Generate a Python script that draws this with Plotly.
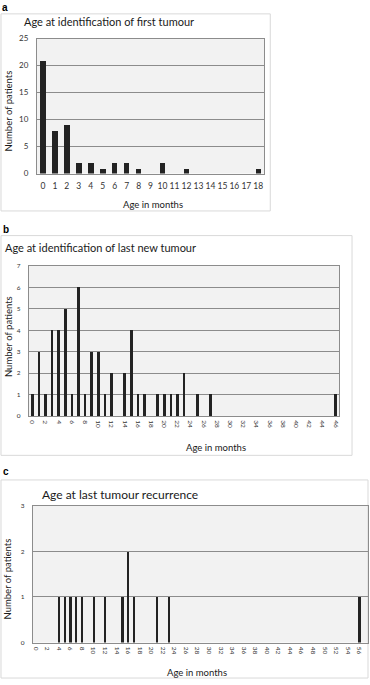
import plotly.graph_objects as go

# ---------------- data ----------------
ages_a = [0, 1, 2, 3, 4, 5, 6, 7, 8, 9, 10, 11, 12, 13, 14, 15, 16, 17, 18]
counts_a = [21, 8, 9, 2, 2, 1, 2, 2, 1, 0, 2, 0, 1, 0, 0, 0, 0, 0, 1]

ages_b = [0, 1, 2, 3, 4, 5, 6, 7, 8, 9, 10, 11, 12, 13, 14, 15, 16, 17, 18, 19,
          20, 21, 22, 23, 24, 25, 26, 27, 28, 29, 30, 31, 32, 33, 34, 35, 36, 37,
          38, 39, 40, 41, 42, 43, 44, 45, 46]
counts_b = [1, 3, 1, 4, 4, 5, 1, 6, 1, 3, 3, 1, 2, 0, 2, 4, 1, 1, 0, 1,
            1, 1, 1, 2, 0, 1, 0, 1, 0, 0, 0, 0, 0, 0, 0, 0, 0, 0,
            0, 0, 0, 0, 0, 0, 0, 0, 1]

ages_c = [0, 1, 2, 3, 4, 5, 6, 7, 8, 9, 10, 11, 12, 13, 14, 15, 16, 17, 18, 19,
          20, 21, 22, 23, 24, 25, 26, 27, 28, 29, 30, 31, 32, 33, 34, 35, 36, 37,
          38, 39, 40, 41, 42, 43, 44, 45, 46, 47, 48, 49, 50, 51, 52, 53, 54, 55,
          56, 57]
counts_c = [0, 0, 0, 0, 1, 1, 1, 1, 1, 0, 1, 0, 1, 0, 0, 1, 2, 1, 0, 0,
            0, 1, 0, 1, 0, 0, 0, 0, 0, 0, 0, 0, 0, 0, 0, 0, 0, 0,
            0, 0, 0, 0, 0, 0, 0, 0, 0, 0, 0, 0, 0, 0, 0, 0, 0, 0,
            1, 0]

ticks_a = [0, 1, 2, 3, 4, 5, 6, 7, 8, 9, 10, 11, 12, 13, 14, 15, 16, 17, 18]
ticks_b = [0, 2, 4, 6, 8, 10, 12, 14, 16, 18, 20, 22, 24, 26, 28, 30, 32, 34,
           36, 38, 40, 42, 44, 46]
ticks_c = [0, 2, 4, 6, 8, 10, 12, 14, 16, 18, 20, 22, 24, 26, 28, 30, 32, 34,
           36, 38, 40, 42, 44, 46, 48, 50, 52, 54, 56]

titles = ["Age at identification of first tumour",
          "Age at identification of last new tumour",
          "Age at last tumour recurrence"]
panel_labels = ["a", "b", "c"]
y_title = "Number of patients"
x_title = "Age in months"

# ---------------- layout helpers ----------------
W, H = 370, 685
FONT = "Lato, Open Sans, sans-serif"
BAR = "#232323"
GRID = "#8c8c8c"


def px(x):
    return x / W


def py(y):
    return 1 - y / H


fig = go.Figure()
fig.add_trace(go.Bar(x=ages_a, y=counts_a, width=0.45, marker_color=BAR,
                     marker_line_width=0, hoverinfo="x+y",
                     xaxis="x", yaxis="y", showlegend=False))
fig.add_trace(go.Bar(x=ages_b, y=counts_b, width=0.42, marker_color=BAR,
                     marker_line_width=0, hoverinfo="x+y",
                     xaxis="x2", yaxis="y2", showlegend=False))
fig.add_trace(go.Bar(x=ages_c, y=counts_c, width=0.38, marker_color=BAR,
                     marker_line_width=0, hoverinfo="x+y",
                     xaxis="x3", yaxis="y3", showlegend=False))


def xax(domain, rng, ticks, size, angle, anchor, standoff):
    return dict(domain=domain, range=rng, tickmode="array", tickvals=ticks,
                ticktext=[str(t) for t in ticks], tickangle=angle,
                tickfont=dict(family=FONT, size=size, color="#333"),
                showgrid=False, zeroline=False, showline=True, mirror=True,
                linecolor=GRID, linewidth=1, ticks="", anchor=anchor,
                ticklabelstandoff=standoff, fixedrange=True)


def yax(domain, rng, dtick, size, anchor, standoff):
    return dict(domain=domain, range=rng, dtick=dtick,
                tickfont=dict(family=FONT, size=size, color="#333"),
                showgrid=True, gridcolor=GRID, gridwidth=1, zeroline=False,
                showline=True, mirror=True, linecolor=GRID, linewidth=1,
                ticks="", anchor=anchor, ticklabelstandoff=standoff,
                fixedrange=True)


fig.update_layout(
    width=W, height=H, margin=dict(l=0, r=0, t=0, b=0),
    paper_bgcolor="white", plot_bgcolor="#f2f2f2", bargap=0,
    xaxis=xax([px(37), px(265)], [-0.5, 18.5], ticks_a, 8.5, 0, "y", 4),
    yaxis=yax([py(171), py(34)], [0, 25], 5, 8, "x", 6),
    xaxis2=xax([px(29), px(340)], [-0.5, 46.5], ticks_b, 6.5, 90, "y2", 2),
    yaxis2=yax([py(417), py(265)], [0, 7], 1, 6.5, "x2", 6),
    xaxis3=xax([px(33), px(369)], [-0.5, 57.5], ticks_c, 6.5, 90, "y3", 2),
    yaxis3=yax([py(647), py(508)], [0, 3], 1, 6.5, "x3", 6),
)

# panel frames
for (x0, y0, x1, y1) in [(1, 9, 271, 209), (1, 234, 353, 457), (1, 482, 369, 683)]:
    fig.add_shape(type="rect", xref="paper", yref="paper",
                  x0=px(x0), x1=px(x1), y0=py(y1), y1=py(y0),
                  line=dict(color="#d9d9d9", width=1), fillcolor="rgba(0,0,0,0)",
                  layer="below")

ann = []
# panel letters
for lab, (x, y) in zip(panel_labels, [(0, 3), (1, 228), (1, 473)]):
    ann.append(dict(text="<b>" + lab + "</b>", x=px(x), y=py(y), xanchor="left",
                    yanchor="middle", font=dict(family="Liberation Sans", size=10,
                                                color="black")))
# titles
for t, (x, y, s) in zip(titles, [(22, 17, 11), (3, 246, 11), (40, 497, 12)]):
    ann.append(dict(text=t, x=px(x), y=py(y), xanchor="left", yanchor="middle",
                    font=dict(family=FONT, size=s, color="#1a1a1a")))
# y titles
for (x, y) in [(8, 107), (8, 336), (8, 582)]:
    ann.append(dict(text=y_title, x=px(x), y=py(y), xanchor="center",
                    yanchor="middle", textangle=-90,
                    font=dict(family=FONT, size=9.5, color="#1a1a1a")))
# x titles
for (x, y) in [(153, 202), (217, 449), (198, 677)]:
    ann.append(dict(text=x_title, x=px(x), y=py(y), xanchor="center",
                    yanchor="middle", font=dict(family=FONT, size=9.5, color="#1a1a1a")))

for a in ann:
    a.update(xref="paper", yref="paper", showarrow=False)
fig.update_layout(annotations=ann)

fig.write_html(
    "out.html",
    config={"displayModeBar": False},
    post_script="document.body.style.margin='0';document.body.style.overflow='hidden';",
)
